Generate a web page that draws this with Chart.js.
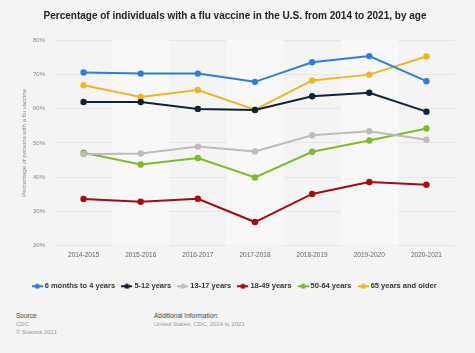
<!DOCTYPE html>
<html>
<head>
<meta charset="utf-8">
<script src="https://cdn.jsdelivr.net/npm/chart.js@4.4.1/dist/chart.umd.min.js"></script>
<style>
  html, body { margin: 0; padding: 0; background: #f4f4f4; }
  body { width: 475px; height: 353px; position: relative; overflow: hidden; font-family: "Liberation Sans", Arial, sans-serif; }
  #wrap { position: absolute; left: 0; top: 0; width: 475px; height: 300px; }
  .foot { position: absolute; font-size: 6px; line-height: 8px; color: #999; }
  .foot b { color: #444; font-weight: normal; font-size: 6.5px; }
</style>
</head>
<body>
<div id="wrap"><canvas id="chart"></canvas></div>
<div class="foot" style="left:16px; top:312px;"><b>Source</b><br>CDC<br>© Statista 2021</div>
<div class="foot" style="left:154px; top:312px;"><b>Additional Information:</b><br>United States; CDC; 2014 to 2021</div>
<script>
const seasons = ['2014-2015', '2015-2016', '2016-2017', '2017-2018', '2018-2019', '2019-2020', '2020-2021'];
const yTicks = [20, 30, 40, 50, 60, 70, 80];

const infants = [70.5, 70.2, 70.2, 67.8, 73.5, 75.3, 68.0];
const children = [61.9, 61.9, 59.9, 59.6, 63.6, 64.6, 59.1];
const teens = [46.7, 46.9, 48.9, 47.5, 52.2, 53.4, 50.9];
const adults = [33.6, 32.8, 33.7, 26.9, 35.1, 38.6, 37.8];
const olderAdults = [47.1, 43.7, 45.6, 39.9, 47.4, 50.7, 54.2];
const seniors = [66.8, 63.4, 65.4, 59.7, 68.2, 69.9, 75.2];

const seriesNames = ['6 months to 4 years', '5-12 years', '13-17 years', '18-49 years', '50-64 years', '65 years and older'];
const seriesColors = ['#2f7ed8', '#0d233a', '#bcbcbc', '#a30d0d', '#7cbb2a', '#f0b429'];
const seriesData = [infants, children, teens, adults, olderAdults, seniors];

// legend marker: short line with a dot
function marker(color) {
    const c = document.createElement('canvas');
    c.width = 11; c.height = 6;
    const ctx = c.getContext('2d');
    ctx.strokeStyle = color;
    ctx.fillStyle = color;
    ctx.lineWidth = 2;
    ctx.beginPath();
    ctx.moveTo(0, 3); ctx.lineTo(11, 3);
    ctx.stroke();
    ctx.beginPath();
    ctx.arc(5.5, 3, 2.6, 0, Math.PI * 2);
    ctx.fill();
    return c;
}

// alternating column bands behind the lines
const bands = {
    id: 'bands',
    beforeDatasetsDraw(chart) {
        const { ctx, chartArea, scales } = chart;
        const x = scales.x;
        const w = x.getPixelForValue(1) - x.getPixelForValue(0);
        ctx.save();
        ctx.fillStyle = '#f8f8f8';
        for (let i = 1; i < seasons.length; i += 2) {
            const cx = x.getPixelForValue(i);
            ctx.fillRect(cx - w / 2, chartArea.top, w, chartArea.bottom - chartArea.top);
        }
        ctx.restore();
    }
};

new Chart(document.getElementById('chart'), {
    type: 'line',
    data: {
        labels: seasons,
        datasets: seriesData.map((d, i) => ({
            label: seriesNames[i],
            data: d,
            borderColor: seriesColors[i],
            backgroundColor: seriesColors[i],
            borderWidth: 2,
            pointRadius: 2.2,
            pointHoverRadius: 3,
            tension: 0,
        })),
    },
    options: {
        responsive: true,
        maintainAspectRatio: false,
        animation: false,
        layout: { padding: { left: 15, right: 20, top: 0, bottom: 0 } },
        scales: {
            x: {
                offset: true,
                grid: { display: false, drawTicks: false },
                border: { display: false },
                ticks: { color: '#666', font: { size: 6.5, family: 'Liberation Sans' }, padding: 6, maxRotation: 0 },
                afterFit(scale) { scale.height += 9; },
            },
            y: {
                min: 20,
                max: 80,
                afterBuildTicks(axis) { axis.ticks = yTicks.map(v => ({ value: v })); },
                afterFit(scale) { scale.width = 40; },
                grid: { color: '#e6e6e6', lineWidth: 1, drawTicks: false },
                border: { display: false },
                ticks: {
                    color: '#888',
                    font: { size: 6, family: 'Liberation Sans' },
                    padding: 10,
                    callback: v => v + '%',
                },
                title: {
                    display: true,
                    text: 'Percentage of persons with a flu vaccine',
                    color: '#888',
                    font: { size: 6, family: 'Liberation Sans' },
                    padding: { top: 6, bottom: 3 },
                },
            },
        },
        plugins: {
            title: {
                display: true,
                text: 'Percentage of individuals with a flu vaccine in the U.S. from 2014 to 2021, by age',
                color: '#222',
                font: { size: 10, weight: 'bold', family: 'Liberation Sans' },
                padding: { top: 10, bottom: 18 },
            },
            legend: {
                position: 'bottom',
                labels: {
                    color: '#333',
                    font: { size: 7.5, weight: 'bold', family: 'Liberation Sans' },
                    usePointStyle: true,
                    boxWidth: 11,
                    padding: 8,
                    generateLabels(chart) {
                        return chart.data.datasets.map((ds, i) => ({
                            text: ds.label,
                            pointStyle: marker(seriesColors[i]),
                            fillStyle: seriesColors[i],
                            strokeStyle: seriesColors[i],
                            fontColor: '#333',
                            lineWidth: 0,
                            datasetIndex: i,
                            hidden: false,
                        }));
                    },
                },
            },
            tooltip: { enabled: false },
        },
    },
    plugins: [bands],
});
</script>
</body>
</html>
